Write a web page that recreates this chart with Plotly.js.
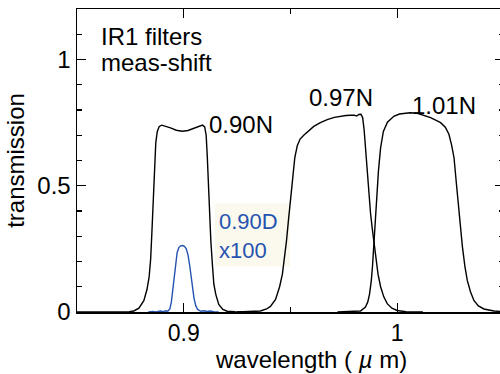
<!DOCTYPE html>
<html>
<head>
<meta charset="utf-8">
<script src="https://cdn.plot.ly/plotly-3.0.1.min.js"></script>
<style>
html,body{margin:0;padding:0;overflow:hidden;background:#fff;width:500px;height:374px;}
#chart{width:504px;height:374px;}
</style>
</head>
<body>
<div id="chart"></div>
<script>
// Wavelength (µm) and transmission for each filter
const wl090N = [0.850,0.870,0.8745,0.8766,0.879,0.8813,0.8828,0.8838,0.8845,0.8851,0.8857,0.8863,0.8869,0.8876,0.8885,0.8897,0.8912,0.8938,0.8965,0.8993,0.9020,0.9050,0.9075,0.9088,0.9098,0.9105,0.9110,0.9115,0.9120,0.9127,0.9134,0.9141,0.9150,0.9164,0.9183,0.9203,0.924,0.935];
const tr090N = [0,0,0.001,0.004,0.015,0.045,0.09,0.14,0.21,0.32,0.46,0.59,0.67,0.715,0.735,0.74,0.737,0.729,0.72,0.716,0.719,0.727,0.735,0.74,0.733,0.70,0.62,0.51,0.40,0.28,0.19,0.11,0.07,0.03,0.01,0.003,0.001,0];

const wl090D = [0.8834,0.8855,0.887,0.889,0.8905,0.8915,0.8925,0.8935,0.8942,0.8948,0.8955,0.8962,0.8969,0.8977,0.8985,0.8995,0.9003,0.9012,0.9020,0.9027,0.9033,0.9040,0.9048,0.9056,0.9065,0.908,0.9095,0.911,0.9125,0.914,0.9163];
const tr090D = [0.0,0.002,0.0,0.004,0.001,0.005,0.003,0.012,0.04,0.08,0.13,0.19,0.235,0.255,0.262,0.263,0.26,0.25,0.225,0.19,0.15,0.10,0.055,0.025,0.01,0.003,0.005,0.002,0.004,0.001,0.0];

const wl097N = [0.925,0.932,0.9359,0.9388,0.9406,0.943,0.9449,0.9462,0.9472,0.9481,0.9490,0.9500,0.9510,0.9520,0.9532,0.9545,0.9562,0.9585,0.9609,0.9640,0.9672,0.9705,0.9734,0.9760,0.9781,0.9800,0.9810,0.9820,0.9830,0.9838,0.9845,0.9851,0.9859,0.9867,0.9875,0.9883,0.9891,0.9898,0.9910,0.9922,0.9937,0.9953,0.9975,1.000,1.004,1.012];
const tr097N = [0,0.001,0.004,0.012,0.022,0.05,0.10,0.15,0.21,0.28,0.36,0.45,0.54,0.61,0.66,0.685,0.70,0.718,0.735,0.75,0.762,0.771,0.776,0.778,0.779,0.779,0.776,0.782,0.783,0.77,0.72,0.65,0.56,0.47,0.39,0.33,0.27,0.22,0.15,0.10,0.06,0.033,0.015,0.006,0.001,0];

const wl101N = [0.972,0.9800,0.9828,0.9851,0.9862,0.9870,0.9878,0.9884,0.9893,0.9902,0.9912,0.9922,0.9935,0.9954,0.9984,1.0010,1.0031,1.0060,1.0094,1.0125,1.0156,1.0180,1.0203,1.0225,1.0242,1.0255,1.0266,1.0278,1.0289,1.0305,1.0317,1.0328,1.0343,1.0359,1.0380,1.0406,1.0453,1.0500];
const tr101N = [0,0.001,0.004,0.02,0.04,0.07,0.12,0.18,0.30,0.44,0.56,0.65,0.715,0.752,0.775,0.784,0.787,0.789,0.787,0.78,0.77,0.76,0.75,0.732,0.704,0.66,0.61,0.50,0.39,0.26,0.18,0.125,0.08,0.046,0.024,0.012,0.004,0.001];

const labelNames = ["0.90N","0.97N","1.01N"];
const blueLabel = "0.90D<br>x100";
const titleLines = ["IR1 filters","meas-shift"];
const xTitle = "wavelength ( <i>\u00b5</i> m)";
const yTitle = "transmission";
const yTicks = [0,0.5,1];
const yTickText = ["0","0.5","1"];
const xTicks = [0.9,1.0];
const xTickText = ["0.9","1"];

const FONT = "Liberation Sans, Arial, sans-serif";
const BLUE = "#2653b0";

const traces = [
  {x: wl090N, y: tr090N, mode: "lines", line: {color: "#000", width: 1.4}},
  {x: wl097N, y: tr097N, mode: "lines", line: {color: "#000", width: 1.4}},
  {x: wl101N, y: tr101N, mode: "lines", line: {color: "#000", width: 1.4}},
  {x: wl090D, y: tr090D, mode: "lines", line: {color: BLUE, width: 1.4}}
];

const annFont = {family: FONT, size: 24, color: "#000"};
const annotations = [
  {x: 0.8608, y: 1.091, text: titleLines[0]},
  {x: 0.8608, y: 0.990, text: titleLines[1]},
  {x: 0.9115, y: 0.741, text: labelNames[0]},
  {x: 0.958, y: 0.848, text: labelNames[1]},
  {x: 1.0063, y: 0.816, text: labelNames[2]},
  {x: 0.9162, y: 0.300, text: blueLabel, align: "left", font: {family: FONT, size: 22, color: BLUE}},
  {xref: "paper", yref: "paper", x: 0.548, y: -0.158, xanchor: "center", text: xTitle}
].map(a => Object.assign({xref: "x", yref: "y", xanchor: "left", yanchor: "middle", showarrow: false, font: annFont, borderpad: 0}, a));

const layout = {
  width: 504, height: 374,
  margin: {l: 77, r: 0, t: 9, b: 62},
  paper_bgcolor: "#fff", plot_bgcolor: "#fff",
  showlegend: false,
  font: {family: FONT, size: 24, color: "#000"},
  shapes: [
    {type: "rect", xref: "x", yref: "y", x0: 0.9145, x1: 0.9498, y0: 0.18, y1: 0.43, fillcolor: "#fbf9ee", line: {width: 0}, layer: "below"}
  ],
  xaxis: {
    range: [0.85, 1.05], tickvals: xTicks, ticktext: xTickText,
    ticks: "inside", ticklen: 9, tickwidth: 1.3, tickcolor: "#000",
    minor: {dtick: 0.05, tick0: 0.85, ticks: "inside", ticklen: 5, tickwidth: 1.3, tickcolor: "#000"},
    showline: true, linecolor: "#000", linewidth: 1.5, mirror: "ticks",
    showgrid: false, zeroline: false,
    tickfont: {family: FONT, size: 23, color: "#000"},
    automargin: false
  },
  yaxis: {
    range: [0, 1.2], tickvals: yTicks, ticktext: yTickText,
    ticks: "inside", ticklen: 9, tickwidth: 1.3, tickcolor: "#000",
    minor: {dtick: 0.1, tick0: 0, ticks: "inside", ticklen: 5, tickwidth: 1.3, tickcolor: "#000"},
    showline: true, linecolor: "#000", linewidth: 1.5, mirror: "ticks",
    showgrid: false, zeroline: false,
    tickfont: {family: FONT, size: 24, color: "#000"},
    title: {text: yTitle, font: {family: FONT, size: 24, color: "#000"}, standoff: 6},
    automargin: false
  },
  annotations: annotations
};

Plotly.newPlot("chart", traces, layout, {staticPlot: true, displayModeBar: false});
</script>
</body>
</html>
